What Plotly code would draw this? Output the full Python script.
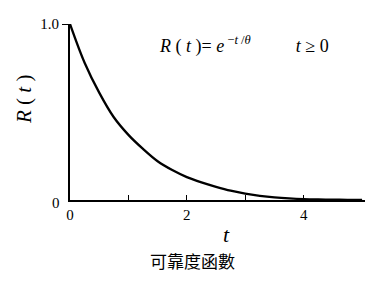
import plotly.graph_objects as go

# values
t_vals = [0, 0.25, 0.5, 0.75, 1.0, 1.25, 1.5, 1.75, 2.0, 2.25, 2.5, 2.75, 3.0, 3.25, 3.5, 3.75, 4.0, 4.25, 4.5, 4.75, 5.0]
r_vals = [1.0, 0.78, 0.61, 0.47, 0.37, 0.29, 0.22, 0.17, 0.13, 0.1, 0.075, 0.053, 0.036, 0.024, 0.015, 0.009, 0.005, 0.003, 0.002, 0.001, 0.0]
x_tick_vals = [0, 1, 2, 3, 4]
x_tick_text = ["0", " ", "2", " ", "4"]

serif = "'Times New Roman', 'Liberation Serif', 'DejaVu Serif', serif"
cjk = "Noto Sans CJK TC"

fig = go.Figure()
fig.add_trace(go.Scatter(x=t_vals, y=r_vals, mode="lines",
                         line=dict(color="black", width=2.3, shape="spline"),
                         cliponaxis=False, hoverinfo="skip"))

fig.update_layout(
    width=391, height=284,
    margin=dict(l=70, r=26, t=24, b=84),
    paper_bgcolor="white", plot_bgcolor="white",
    showlegend=False,
    font=dict(family=serif, color="black", size=15),
    xaxis=dict(range=[0, 5.05], showgrid=False, zeroline=False,
               showline=True, linecolor="black", linewidth=2,
               tickvals=x_tick_vals, ticktext=x_tick_text,
               ticks="inside", ticklen=5, tickwidth=1.3, tickcolor="black",
               tickfont=dict(family=serif, size=15),
               fixedrange=True),
    yaxis=dict(range=[0, 1], showgrid=False, zeroline=False,
               showline=True, linecolor="black", linewidth=2,
               tickvals=[1], ticktext=["1.0"],
               ticks="outside", ticklen=6, tickwidth=1.2, tickcolor="black",
               tickfont=dict(family=serif, size=15),
               fixedrange=True),
)

# "0" label on the y axis
fig.add_annotation(x=0, y=0, xref="x", yref="y", text="0", showarrow=False,
                   xanchor="right", yanchor="middle", xshift=-8, yshift=-3,
                   font=dict(family=serif, size=15))

# formula
fig.add_annotation(xref="paper", yref="paper", x=(157 - 70) / 295, y=(200 - 45) / 176,
                   text="<i>R</i> ( <i>t</i> )= <i>e</i><sup> −<i>t</i> /<i>θ</i></sup>          <i>t</i> ≥ 0",
                   showarrow=False, xanchor="left", yanchor="middle",
                   font=dict(family=serif, size=18))

# y title
fig.add_annotation(xref="paper", yref="paper", x=(24 - 70) / 295, y=(200 - 100) / 176,
                   text="<i>R</i> ( <i>t</i> )", textangle=-90, showarrow=False,
                   xanchor="center", yanchor="middle",
                   font=dict(family=serif, size=21))

# x title
fig.add_annotation(xref="paper", yref="paper", x=(226 - 70) / 295, y=(200 - 234) / 176,
                   text="<i>t</i>", showarrow=False, xanchor="center", yanchor="middle",
                   font=dict(family=serif, size=22))

# caption
fig.add_annotation(xref="paper", yref="paper", x=(192 - 70) / 295, y=(200 - 260) / 176,
                   text="可靠度函數", showarrow=False, xanchor="center", yanchor="middle",
                   font=dict(family=cjk, size=17))

fig.write_html("out.html")
